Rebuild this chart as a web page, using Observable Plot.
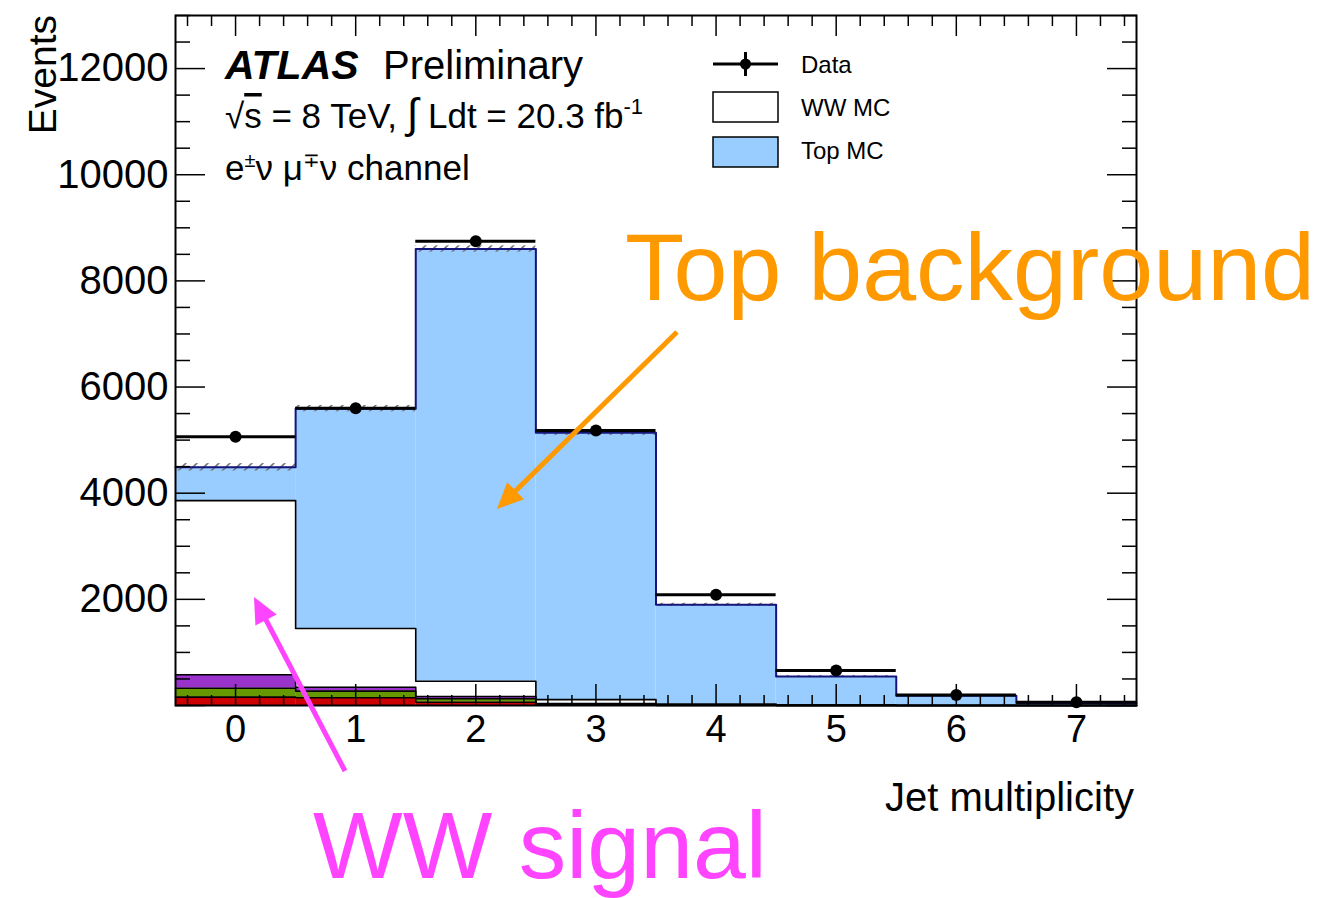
<!DOCTYPE html>
<html><head><meta charset="utf-8">
<script src="https://cdn.jsdelivr.net/npm/d3@7"></script>
<script src="https://cdn.jsdelivr.net/npm/@observablehq/plot@0.6"></script>
<style>body{margin:0;background:#fff;} svg{display:block}</style>
</head><body><div id="chart"></div>
<script>
// ---- data ----
const bins = [0, 1, 2, 3, 4, 5, 6, 7];
const dataEvents = [5065, 5600, 8745, 5180, 2085, 660, 200, 60];
const redMC    = [157, 145, 62, 10, 3, 1, 0, 0];
const greenMC  = [169, 125, 64, 15, 4, 1, 0, 0];
const purpleMC = [252, 75, 44, 10, 3, 1, 0, 0];
const wwMC     = [3282, 1105, 288, 75, 15, 4, 1, 0];
const topMC    = [627, 4143, 8142, 5030, 1871, 540, 185, 45];
const mcUncertainty = [70, 60, 60, 50, 30, 15, 8, 4];
const componentNames = ["other1", "other2", "other3", "WW MC", "Top MC"];
const xTickLabels = [0, 1, 2, 3, 4, 5, 6, 7];
const yTickLabels = [2000, 4000, 6000, 8000, 10000, 12000];

// ---- styles ----
const componentColors = ["#cc0000", "#669900", "#9933cc", "#ffffff", "#99ccff"];
const FONT = "'Liberation Sans', Arial, Helvetica, sans-serif";

// ---- build stacked rows ----
const series = [redMC, greenMC, purpleMC, wwMC, topMC];
const cum = bins.map(() => 0);
const rows = [];
const stepPts = [];
series.forEach((vals, k) => {
  bins.forEach((b, i) => {
    rows.push({bin: b, comp: componentNames[k], y1: cum[i], y2: cum[i] + vals[i]});
    cum[i] += vals[i];
  });
  bins.forEach((b, i) => stepPts.push({k, x: b - 0.5, y: cum[i]}));
  stepPts.push({k, x: bins[bins.length - 1] + 0.5, y: cum[bins.length - 1]});
});
const totals = cum.slice();
const band = bins.map((b, i) => ({bin: b, lo: totals[i] - mcUncertainty[i], hi: totals[i] + mcUncertainty[i]}));
const dataRows = bins.map((b, i) => ({bin: b, n: dataEvents[i]}));

const xMinor = d3.range(-0.4, 7.45, 0.2).map(v => +v.toFixed(1)).filter(v => Math.abs(v - Math.round(v)) > 1e-6);
const xMajor = xTickLabels;
const yMajor = d3.range(0, 13001, 2000);
const yMinor = d3.range(500, 13001, 500).filter(v => v % 2000 !== 0);

const plot = Plot.plot({
  width: 1324,
  height: 898,
  marginLeft: 175,
  marginRight: 188,
  marginTop: 15,
  marginBottom: 193,
  style: {fontFamily: FONT, fontSize: "38px", background: "#fff", color: "#000", overflow: "visible"},
  x: {domain: [-0.5, 7.5]},
  y: {domain: [0, 13000]},
  color: {domain: componentNames, range: componentColors},
  marks: [
    Plot.rect(rows, {x1: d => d.bin - 0.5, x2: d => d.bin + 0.5, y1: "y1", y2: "y2", fill: "comp"}),
    Plot.rect(band, {x1: d => d.bin - 0.5, x2: d => d.bin + 0.5, y1: "lo", y2: "hi", fill: "url(#hatch)"}),
    Plot.line(stepPts.filter(d => d.k < 4), {x: "x", y: "y", z: "k", curve: "step-after", stroke: "#000", strokeWidth: 1.6}),
    Plot.line(stepPts.filter(d => d.k === 4), {x: "x", y: "y", curve: "step-after", stroke: "#14147a", strokeWidth: 2}),
    Plot.ruleY(dataRows, {x1: d => d.bin - 0.5, x2: d => d.bin + 0.5, y: "n", stroke: "#000", strokeWidth: 3}),
    Plot.ruleX(dataRows, {x: "bin", y1: d => d.n - Math.sqrt(d.n), y2: d => d.n + Math.sqrt(d.n), stroke: "#000", strokeWidth: 3}),
    Plot.dot(dataRows, {x: "bin", y: "n", r: 6, fill: "#000", stroke: "none"}),
    // inward ticks, all four sides
    Plot.axisX(xMajor, {anchor: "bottom", tickSize: -21, tickFormat: () => "", label: null, strokeWidth: 1.5}),
    Plot.axisX(xMinor, {anchor: "bottom", tickSize: -10, tickFormat: () => "", label: null, strokeWidth: 1.5}),
    Plot.axisX(xMajor, {anchor: "top", tickSize: -20, tickFormat: () => "", label: null, strokeWidth: 1.5}),
    Plot.axisX(xMinor, {anchor: "top", tickSize: -10, tickFormat: () => "", label: null, strokeWidth: 1.5}),
    Plot.axisY(yMajor, {anchor: "left", tickSize: -30, tickFormat: () => "", label: null, strokeWidth: 1.5}),
    Plot.axisY(yMinor, {anchor: "left", tickSize: -15, tickFormat: () => "", label: null, strokeWidth: 1.5}),
    Plot.axisY(yMajor, {anchor: "right", tickSize: -30, tickFormat: () => "", label: null, strokeWidth: 1.5}),
    Plot.axisY(yMinor, {anchor: "right", tickSize: -15, tickFormat: () => "", label: null, strokeWidth: 1.5}),
    // tick labels
    Plot.axisX(xTickLabels, {anchor: "bottom", tickSize: 0, tickPadding: 10, tickFormat: d => String(d), label: null, fontSize: 38}),
    Plot.axisY(yTickLabels, {anchor: "left", tickSize: 0, tickPadding: 7, tickFormat: d => String(d), label: null, fontSize: 40}),
    Plot.frame({stroke: "#000", strokeWidth: 2})
  ]
});
document.getElementById("chart").appendChild(plot);

// ---- hatch pattern for MC uncertainty ----
const svg = d3.select(plot);
const defs = svg.insert("defs", ":first-child");
const pat = defs.append("pattern").attr("id", "hatch").attr("patternUnits", "userSpaceOnUse")
  .attr("width", 11).attr("height", 11);
pat.append("path").attr("d", "M0,11 L11,0 M-2,2 L2,-2 M9,13 L13,9").attr("stroke", "#777").attr("stroke-width", 1.6);

// ---- texts ----
function txt(x, y, s, size, opts = {}) {
  const t = svg.append("text").attr("x", x).attr("y", y).attr("font-size", size)
    .attr("font-family", FONT).attr("fill", opts.fill || "#000")
    .attr("text-anchor", opts.anchor || "start")
    .attr("font-weight", opts.weight || "normal")
    .attr("font-style", opts.style || "normal");
  if (opts.transform) t.attr("transform", opts.transform);
  if (opts.textLength) t.attr("textLength", opts.textLength).attr("lengthAdjust", "spacingAndGlyphs");
  if (s !== null) t.text(s);
  return t;
}
txt(225, 79, "ATLAS", 41, {weight: "bold", style: "italic"});
txt(383, 79, "Preliminary", 40);
const l2 = txt(225, 128, null, 35);
l2.append("tspan").text("\u221A");
l2.append("tspan").attr("text-decoration", "overline").text("s");
l2.append("tspan").text(" = 8 TeV, ");
l2.append("tspan").attr("font-size", 42).text("\u222B");
l2.append("tspan").text(" Ldt = 20.3 fb");
l2.append("tspan").attr("font-size", 22).attr("dy", -14).text("-1");
const l3 = txt(225, 180, null, 35);
l3.append("tspan").text("e");
l3.append("tspan").attr("font-size", 20).attr("dy", -13).text("\u00B1");
l3.append("tspan").attr("dy", 13).text("\u03BD \u03BC");
l3.append("tspan").attr("font-size", 20).attr("dy", -13).text("\u2213");
l3.append("tspan").attr("dy", 13).text("\u03BD channel");

txt(56, 15, "Events", 39, {anchor: "end", transform: "rotate(-90 56 15)"});
txt(1134, 811, "Jet multiplicity", 40, {anchor: "end"});

// ---- legend ----
svg.append("line").attr("x1", 713).attr("x2", 778).attr("y1", 64).attr("y2", 64).attr("stroke", "#000").attr("stroke-width", 3);
svg.append("line").attr("x1", 745.5).attr("x2", 745.5).attr("y1", 52).attr("y2", 76).attr("stroke", "#000").attr("stroke-width", 3);
svg.append("circle").attr("cx", 745.5).attr("cy", 64).attr("r", 5.5).attr("fill", "#000");
txt(801, 73, "Data", 24);
svg.append("rect").attr("x", 713).attr("y", 92).attr("width", 65).attr("height", 30).attr("fill", "#fff").attr("stroke", "#000").attr("stroke-width", 1.5);
txt(801, 116, "WW MC", 24);
svg.append("rect").attr("x", 713).attr("y", 137).attr("width", 65).attr("height", 30).attr("fill", "#99ccff").attr("stroke", "#000").attr("stroke-width", 1.5);
txt(801, 159, "Top MC", 24);

// ---- annotations ----
function arrow(x1, y1, x2, y2, color) {
  const dx = x2 - x1, dy = y2 - y1, L = Math.hypot(dx, dy), ux = dx / L, uy = dy / L;
  const hl = 26, hw = 12;
  const bx = x2 - ux * hl, by = y2 - uy * hl;
  svg.append("line").attr("x1", x1).attr("y1", y1).attr("x2", bx + ux * 2).attr("y2", by + uy * 2)
    .attr("stroke", color).attr("stroke-width", 5);
  svg.append("path").attr("d", `M${x2},${y2}L${bx - uy * hw},${by + ux * hw}L${bx + uy * hw},${by - ux * hw}Z`).attr("fill", color);
}
txt(625, 300, "Top background", 95, {fill: "#ff9900", textLength: 690});
arrow(677, 332, 497, 509, "#ff9900");
txt(313, 878, "WW signal", 95, {fill: "#ff44ff"});
arrow(345, 771, 254, 597, "#ff44ff");
</script>
</body></html>
